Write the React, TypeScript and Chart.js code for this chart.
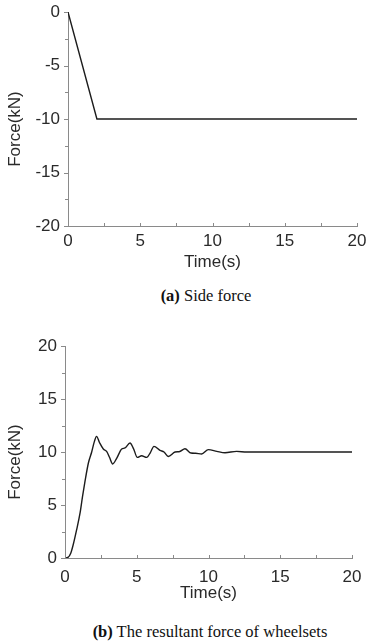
import React, { useEffect, useRef } from "react";
import { Chart, registerables } from "chart.js";

Chart.register(...registerables);

// (a) Side force
const sideTime = [0, 2, 20];
const sideForce = [0, -10, -10];
const sideYTicks = [-20, -15, -10, -5, 0];

// (b) Resultant force of wheelsets
const resTime = [0, 0.2, 0.4, 0.58, 0.8, 1.05, 1.22, 1.39, 1.63, 1.86, 2.05, 2.2, 2.4, 2.67, 2.9, 3.1, 3.32, 3.6, 3.95, 4.18, 4.53, 4.78, 5.04, 5.34, 5.69, 5.95, 6.2, 6.62, 6.9, 7.2, 7.67, 8.0, 8.36, 8.78, 9.1, 9.52, 9.99, 10.58, 11.15, 11.96, 12.66, 20];
const resForce = [0, 0.05, 0.45, 1.3, 2.6, 4.25, 5.8, 7.2, 8.96, 10.0, 11.0, 11.47, 10.9, 10.28, 10.06, 9.5, 8.87, 9.4, 10.28, 10.38, 10.85, 10.3, 9.49, 9.65, 9.49, 9.95, 10.53, 10.15, 10.0, 9.58, 10.0, 10.05, 10.31, 9.9, 9.88, 9.81, 10.22, 10.06, 9.93, 10.06, 10.0, 10.0];
const resYTicks = [0, 5, 10, 15, 20];

const xTicks = [0, 5, 10, 15, 20];
const xTitle = "Time(s)";
const yTitle = "Force(kN)";

const FONT = "'Liberation Sans', Arial, sans-serif";
const TEXT = "#2a2a2a";
const AXIS = "#8a8a8a";

const decorPlugin = {
  id: "decor",
  afterDraw(chart: any) {
    const ctx = chart.ctx;
    const a = chart.chartArea;
    const xs = chart.scales.x;
    const ys = chart.scales.y;
    ctx.save();
    ctx.strokeStyle = AXIS;
    ctx.lineWidth = 1;
    // y ticks (outward, left)
    for (let v = ys.min; v <= ys.max + 1e-9; v += 2.5) {
      const y = Math.round(ys.getPixelForValue(v)) + 0.5;
      const major = Math.abs(v % 5) < 1e-9;
      ctx.beginPath();
      ctx.moveTo(a.left - (major ? 4 : 3), y);
      ctx.lineTo(a.left, y);
      ctx.stroke();
    }
    // x ticks (inward, up)
    for (let v = xs.min; v <= xs.max + 1e-9; v += 2.5) {
      const x = Math.round(xs.getPixelForValue(v)) + 0.5;
      ctx.beginPath();
      ctx.moveTo(x, a.bottom);
      ctx.lineTo(x, a.bottom - 3);
      ctx.stroke();
    }
    // titles
    const o = chart.options.plugins.decor;
    ctx.fillStyle = TEXT;
    ctx.font = `17px ${FONT}`;
    ctx.textAlign = "center";
    ctx.textBaseline = "middle";
    ctx.fillText(xTitle, (a.left + a.right) / 2, a.bottom + o.xTitleGap);
    ctx.translate(o.yTitleX, (a.top + a.bottom) / 2 + 10);
    ctx.rotate(-Math.PI / 2);
    ctx.fillText(yTitle, 0, 0);
    ctx.restore();
  },
};

function makeConfig(
  xs: number[],
  ys: number[],
  yTicks: number[],
  area: { left: number; right: number; top: number; bottom: number },
  w: number,
  h: number,
  xPad: number,
  xTitleGap: number,
  smooth: boolean
): any {
  const yMin = yTicks[0];
  const yMax = yTicks[yTicks.length - 1];
  const ds: any = {
    data: xs.map((x, i) => ({ x, y: ys[i] })),
    borderColor: "#1c1c1c",
    borderWidth: 1.4,
    pointRadius: 0,
    fill: false,
    tension: 0,
  };
  if (smooth) ds.cubicInterpolationMode = "monotone";
  return {
    type: "line",
    data: { datasets: [ds] },
    options: {
      animation: false,
      responsive: false,
      events: [],
      layout: { padding: { left: 0, right: w - area.right, top: area.top, bottom: 0 } },
      plugins: {
        legend: { display: false },
        tooltip: { enabled: false },
        decor: { xTitleGap, yTitleX: 15 },
      },
      scales: {
        x: {
          type: "linear",
          min: xTicks[0],
          max: xTicks[xTicks.length - 1],
          grid: { display: false, drawTicks: false },
          border: { display: true, color: AXIS, width: 1 },
          ticks: {
            stepSize: 5,
            padding: xPad,
            color: TEXT,
            font: { size: 17, family: FONT },
            maxRotation: 0,
            callback: (v: number) => (xTicks.includes(v) ? String(v) : ""),
          },
          afterFit: (s: any) => {
            s.height = h - area.bottom;
            s.paddingLeft = 0;
            s.paddingRight = 0;
          },
        },
        y: {
          type: "linear",
          min: yMin,
          max: yMax,
          grid: { display: false, drawTicks: false },
          border: { display: true, color: AXIS, width: 1 },
          ticks: {
            stepSize: 5,
            padding: 8,
            color: TEXT,
            font: { size: 17, family: FONT },
            callback: (v: number) => (yTicks.includes(v) ? String(v) : ""),
          },
          afterFit: (s: any) => {
            s.width = area.left;
            s.paddingTop = 0;
            s.paddingBottom = 0;
          },
        },
      },
    },
    plugins: [decorPlugin],
  };
}

function ChartBox(props: { cfg: () => any; w: number; h: number; top: number }) {
  const ref = useRef<HTMLCanvasElement | null>(null);
  useEffect(() => {
    const c = new Chart(ref.current as HTMLCanvasElement, props.cfg());
    return () => c.destroy();
  }, []);
  return (
    <canvas
      ref={ref}
      width={props.w}
      height={props.h}
      style={{ position: "absolute", left: 0, top: props.top, width: props.w, height: props.h }}
    />
  );
}

export default function App() {
  const W = 377;
  const H = 280;
  const capStyle: React.CSSProperties = {
    position: "absolute",
    fontFamily: "'Liberation Serif', 'Times New Roman', serif",
    fontSize: 16.5,
    lineHeight: "20px",
    color: "#111",
    textAlign: "center",
    whiteSpace: "nowrap",
  };
  return (
    <div style={{ position: "absolute", left: 0, top: 0, width: 377, height: 643, background: "#fff", overflow: "hidden" }}>
      <ChartBox
        w={W}
        h={H}
        top={0}
        cfg={() => makeConfig(sideTime, sideForce, sideYTicks, { left: 68, right: 357, top: 12, bottom: 226 }, W, H, 5, 36, false)}
      />
      <div style={{ ...capStyle, left: 56, width: 300, top: 286 }}>
        <b>(a)</b> Side force
      </div>
      <ChartBox
        w={W}
        h={H}
        top={330}
        cfg={() => makeConfig(resTime, resForce, resYTicks, { left: 65, right: 352, top: 16, bottom: 228 }, W, H, 9, 35, true)}
      />
      <div style={{ ...capStyle, left: 60, width: 300, top: 622 }}>
        <b>(b)</b> The resultant force of wheelsets
      </div>
    </div>
  );
}
